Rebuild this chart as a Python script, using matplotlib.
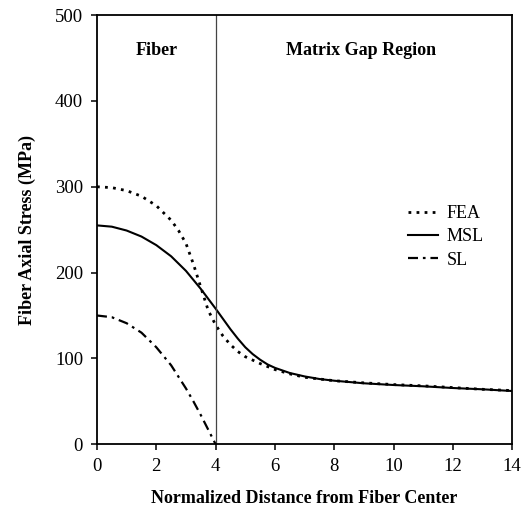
import matplotlib
matplotlib.use("Agg")
import matplotlib.pyplot as plt

plt.rcParams.update({
    "font.family": ["Liberation Serif", "DejaVu Serif"],
    "axes.linewidth": 1.3,
    "xtick.direction": "out",
    "ytick.direction": "out",
    "xtick.major.size": 4,
    "ytick.major.size": 4,
    "xtick.major.width": 1.1,
    "ytick.major.width": 1.1,
})

# values
fea_x = [0, 0.5, 1.0, 1.5, 2.0, 2.5, 2.75, 3.0, 3.25, 3.5, 3.75, 4.0, 4.25, 4.5, 4.75,
         5.0, 5.5, 6.0, 6.5, 7.0, 8.0, 9.0, 10.0, 11.0, 12.0, 13.0, 14.0]
fea_y = [300, 299, 295.5, 289, 278, 261, 249, 234, 210, 183, 156, 139, 126, 116, 108,
         102, 94, 87, 82, 78, 74, 71.5, 69.5, 68, 66, 64, 62.5]

msl_x = [0, 0.5, 1.0, 1.5, 2.0, 2.5, 3.0, 3.5, 4.0, 4.25, 4.5, 4.75, 5.0, 5.25, 5.5,
         5.75, 6.0, 6.5, 7.0, 7.5, 8.0, 9.0, 10.0, 11.0, 12.0, 13.0, 14.0]
msl_y = [255, 253.5, 249, 242, 232, 219, 202, 181, 158, 146, 134, 123, 113, 105, 98.5,
         93, 89, 83, 79, 76, 74, 71, 69, 67.5, 65.5, 64, 62]

sl_x = [0, 0.5, 1.0, 1.5, 2.0, 2.5, 3.0, 3.25, 3.5, 3.75, 4.0]
sl_y = [150, 148, 141, 130, 113, 92, 65, 50, 34, 17, 0]

x_ticks = [0, 2, 4, 6, 8, 10, 12, 14]
y_ticks = [0, 100, 200, 300, 400, 500]
fiber_end = 4

fig = plt.figure(figsize=(5.27, 5.22), dpi=100)
ax = fig.add_axes([0.184, 0.149, 0.788, 0.822])

ax.plot(fea_x, fea_y, color="black", lw=2.0, linestyle=(0, (1.0, 1.9)), label="FEA")
ax.plot(msl_x, msl_y, color="black", lw=1.5, label="MSL")
ax.plot(sl_x, sl_y, color="black", lw=1.6, linestyle=(0, (4.5, 2.2, 1.2, 2.2)), label="SL")

ax.axvline(fiber_end, color="#444444", lw=0.9)

ax.set_xlim(0, 14)
ax.set_ylim(0, 500)
ax.set_xticks(x_ticks)
ax.set_yticks(y_ticks)
ax.tick_params(labelsize=13.5, pad=6)

ax.text(2.0, 459, "Fiber", ha="center", va="center", fontsize=13, fontweight="bold")
ax.text(8.9, 459, "Matrix Gap Region", ha="center", va="center", fontsize=13, fontweight="bold")

ax.set_xlabel("Normalized Distance from Fiber Center", fontsize=13, fontweight="bold", labelpad=11)
ax.set_ylabel("Fiber Axial Stress (MPa)", fontsize=13, fontweight="bold", labelpad=14)

ax.legend(loc="upper left", bbox_to_anchor=(0.71, 0.595), frameon=False,
          fontsize=13, handlelength=1.65, handletextpad=0.5, labelspacing=0.35)

fig.savefig("out.png", dpi=100)
